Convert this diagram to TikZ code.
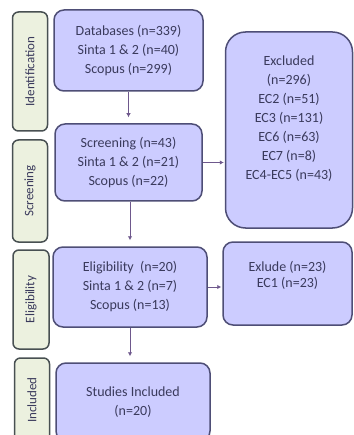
\documentclass[tikz,border=0pt]{standalone}
\usepackage{fontspec}
\setmainfont{Carlito}
\usetikzlibrary{positioning, arrows.meta}
\definecolor{boxFill}{RGB}{204,204,255}
\definecolor{boxLine}{RGB}{78,78,118}
\definecolor{stageFill}{RGB}{236,241,223}
\definecolor{stageLine}{RGB}{72,80,82}
\definecolor{textInk}{RGB}{58,58,92}
\definecolor{arrowInk}{RGB}{110,88,140}

\begin{document}
\begin{tikzpicture}[x=1pt, y=1pt,
					box/.style={draw=boxLine, line width=1.5pt, fill=boxFill, rounded corners=10pt, align=center, text=textInk, font=\fontsize{14}{19}\selectfont, inner sep=2pt},
					stage/.style={draw=stageLine, line width=1.5pt, fill=stageFill, rounded corners=6pt, minimum width=35pt, rotate=90, text=textInk, font=\fontsize{13}{15}\selectfont, inner sep=0pt},
					arrow/.style={-{Latex[length=4pt, width=4.5pt]}, line width=0.8pt, draw=arrowInk}]
					\useasboundingbox (0,0) rectangle (353,-435);
					% stage labels on the left
					\node[stage, minimum width=119pt, minimum height=35pt] (identLab) at (30,-71.5) {Identification};
					\node[stage, minimum width=102pt, minimum height=35pt] (screenLab) at (30,-191) {Screening};
					\node[stage, minimum width=99pt, minimum height=36pt] (eligLab) at (31,-299.5) {Eligibility};
					\node[stage, minimum width=84pt, minimum height=35pt] (inclLab) at (32,-400) {Included};
					% flow boxes
					\node[box, minimum width=149pt, minimum height=81pt] (db) at (128.5,-50.5) {Databases (n=339)\\Sinta 1 \& 2 (n=40)\\Scopus (n=299)};
					\node[box, minimum width=147pt, minimum height=77pt] (screen) at (128.5,-162.5) {Screening (n=43)\\Sinta 1 \& 2 (n=21)\\Scopus (n=22)};
					\node[box, minimum width=127pt, minimum height=196pt, rounded corners=20pt] (excl) at (289,-130) {Excluded\\(n=296)\\EC2 (n=51)\\EC3 (n=131)\\EC6 (n=63)\\EC7 (n=8)\\EC4-EC5 (n=43)\\[6pt]\mbox{}};
					\node[box, minimum width=154pt, minimum height=80pt] (elig) at (130,-287) {Eligibility~ (n=20)\\Sinta 1 \& 2 (n=7)\\Scopus (n=13)};
					\node[box, minimum width=129pt, minimum height=83pt, font=\fontsize{14}{16}\selectfont] (exlude) at (287.5,-283.5) {Exlude (n=23)\\EC1 (n=23)\\[2pt]\mbox{}};
					\node[box, minimum width=154pt, minimum height=78pt] (incl) at (133,-402) {Studies Included\\(n=20)};
					% connectors
					\draw[arrow, shorten >=6pt] (db.south) -- (db.south |- screen.north);
					\draw[arrow, shorten >=6pt] (screen.south -| elig.north) -- (elig.north);
					\draw[arrow, shorten >=6pt] (elig.south) -- (elig.south |- incl.north);
					\draw[arrow, shorten >=1pt] (screen.east) -- (screen.east -| excl.west);
					\draw[arrow, shorten >=1pt] (elig.east) -- (elig.east -| exlude.west);
				\end{tikzpicture}
\end{document}
